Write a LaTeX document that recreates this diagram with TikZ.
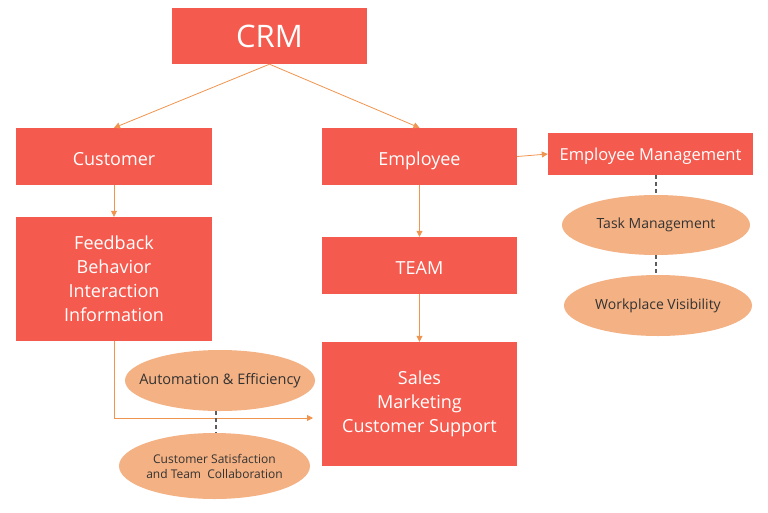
\documentclass[tikz,border=0pt]{standalone}
\usepackage{fontspec}
\setmainfont{Open Sans}
\usetikzlibrary{arrows.meta,shapes.geometric}
\definecolor{boxred}{HTML}{F55A4E}
\definecolor{peach}{HTML}{F4B183}
\definecolor{arr}{HTML}{F0954F}
\definecolor{txtdark}{HTML}{333333}
\tikzset{
  rbox/.style={fill=boxred, draw=none, text=white, inner sep=0pt, align=center},
  oneline/.style={text depth=0pt},
  lowtext/.style={text depth=0pt, text height=17pt},
  pell/.style={ellipse, fill=peach, draw=none, inner sep=0pt},
  etxt/.style={text=txtdark, inner sep=0pt, align=center},
  conn/.style={draw=arr, line width=0.8pt, -{Triangle[length=6pt,width=6pt]}},
  dsh/.style={draw=txtdark!80, line width=1.2pt, dash pattern=on 4pt off 3pt}
}
\begin{document}
\begin{tikzpicture}[x=1pt,y=-1pt]
\useasboundingbox (0,0) rectangle (768,512);
\fill[white] (0,0) rectangle (768,512);
\node[rbox, oneline, minimum width=195pt, minimum height=56pt, font=\fontsize{31}{33}\selectfont] (crm) at (269.5,36) {CRM};
\node[rbox, lowtext, minimum width=196pt, minimum height=57pt, font=\fontsize{18}{20}\selectfont] (cust) at (114,156.5) {Customer};
\node[rbox, lowtext, minimum width=195pt, minimum height=57pt, font=\fontsize{18}{20}\selectfont] (emp) at (419.5,156.5) {Employee};
\node[rbox, oneline, minimum width=205pt, minimum height=42pt, font=\fontsize{16.5}{18}\selectfont] (empm) at (650.5,154) {Employee Management};
\node[rbox, minimum width=196pt, minimum height=124pt, font=\fontsize{18}{24}\selectfont] (fb) at (114,279) {Feedback\\Behavior\\Interaction\\Information};
\node[rbox, lowtext, minimum width=195pt, minimum height=57pt, font=\fontsize{18}{20}\selectfont] (team) at (419.5,265.5) {TEAM};
\node[rbox, minimum width=195pt, minimum height=124pt, font=\fontsize{18}{24}\selectfont] (sales) at (419.5,404) {Sales\\Marketing\\Customer Support};
\node[pell, minimum width=188pt, minimum height=60pt] (task) at (656,225) {};
\node[etxt, font=\fontsize{14}{16}\selectfont] (taskt) at (task.center) {Task Management};
\node[pell, minimum width=188pt, minimum height=61pt] (wv) at (658,305.5) {};
\node[etxt, font=\fontsize{14}{16}\selectfont] (wvt) at (wv.center) {Workplace Visibility};
\node[pell, minimum width=190pt, minimum height=61pt] (auto) at (220,380.5) {};
\node[etxt, font=\fontsize{14.5}{16}\selectfont] (autot) at (auto.center) {Automation \& Efficiency};
\node[pell, minimum width=191pt, minimum height=66pt] (cs) at (214.5,466) {};
\node[etxt, font=\fontsize{12}{15}\selectfont] (cst) at (cs.center) {Customer Satisfaction\\and Team\ \ Collaboration};
\coordinate (tip) at (313,418);
\draw[conn] (crm.south) -- (cust.north);
\draw[conn] (crm.south) -- (emp.north);
\draw[conn] (cust.south) -- (fb.north);
\draw[conn] (emp.south) -- (team.north);
\draw[conn] (team.south) -- (sales.north);
\draw[conn] (emp.east) -- (empm.west);
\draw[conn] (fb.south) |- (tip);
\draw[dsh] (empm.south -| task.north) -- (task.north);
\draw[dsh] (task.south) -- (task.south |- wv.north);
\draw[dsh] ([xshift=-4pt]auto.south) -- ([xshift=-4pt]auto.south |- cs.north);
\end{tikzpicture}
\end{document}
